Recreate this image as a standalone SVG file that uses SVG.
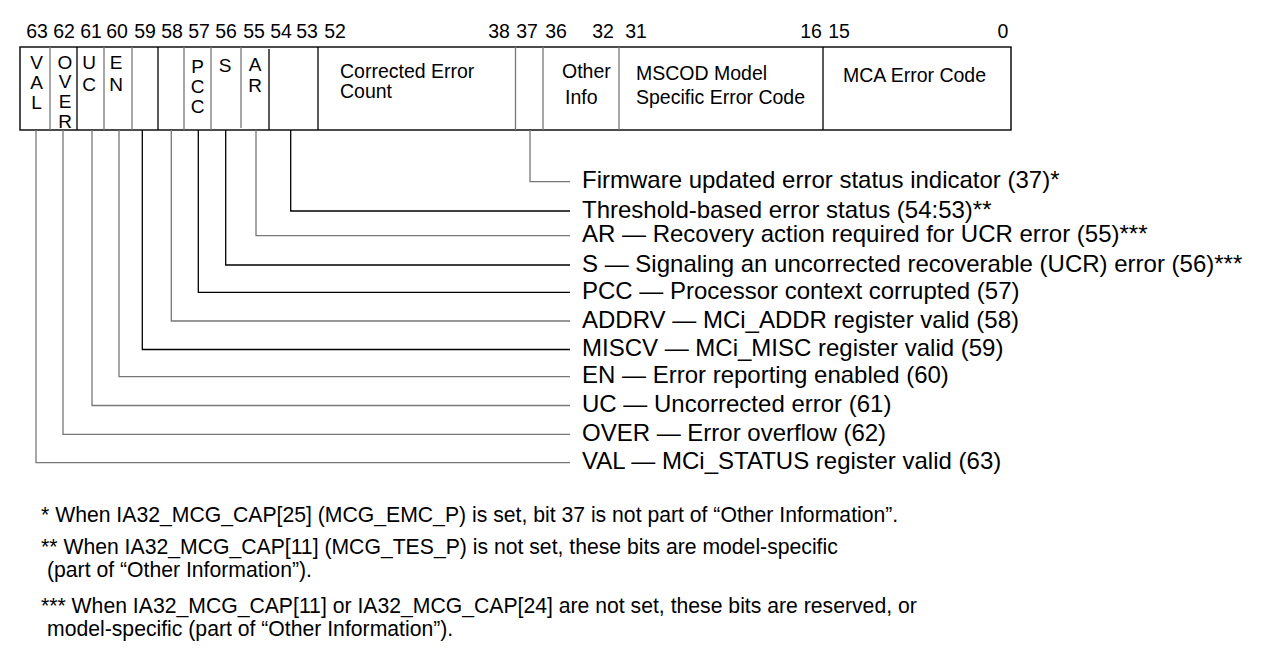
<svg xmlns="http://www.w3.org/2000/svg" width="1270" height="656" viewBox="0 0 1270 656">
<style>
text{font-family:"Liberation Sans",Arial,sans-serif;fill:#000}
.num{font-size:19.5px;text-anchor:middle}
.bx{font-size:19.5px}
.vl{font-size:19px;text-anchor:middle}
.lab{font-size:24px}
.fn{font-size:21.2px}
.frame{fill:none;stroke:#000;stroke-width:1.4}
.dk{stroke:#000;stroke-width:1.3;fill:none}
.gy{stroke:#777;stroke-width:1.3;fill:none}
</style>
<rect width="1270" height="656" fill="#fff"/>
<g id="bit-numbers">
<text class="num" x="37" y="38">63</text>
<text class="num" x="64" y="38">62</text>
<text class="num" x="91" y="38">61</text>
<text class="num" x="117" y="38">60</text>
<text class="num" x="145" y="38">59</text>
<text class="num" x="172" y="38">58</text>
<text class="num" x="199" y="38">57</text>
<text class="num" x="226" y="38">56</text>
<text class="num" x="254" y="38">55</text>
<text class="num" x="281" y="38">54</text>
<text class="num" x="307" y="38">53</text>
<text class="num" x="335" y="38">52</text>
<text class="num" x="499" y="38">38</text>
<text class="num" x="527" y="38">37</text>
<text class="num" x="556" y="38">36</text>
<text class="num" x="603" y="38">32</text>
<text class="num" x="636" y="38">31</text>
<text class="num" x="811" y="38">16</text>
<text class="num" x="839" y="38">15</text>
<text class="num" x="1003" y="38">0</text>
</g>
<g id="register">
<rect class="frame" x="20" y="47" width="991" height="83"/>
<line class="gy" x1="50" y1="47" x2="50" y2="130"/>
<line class="dk" x1="77" y1="47" x2="77" y2="130"/>
<line class="gy" x1="104" y1="47" x2="104" y2="130"/>
<line class="gy" x1="132" y1="47" x2="132" y2="130"/>
<line class="dk" x1="158" y1="47" x2="158" y2="130"/>
<line class="gy" x1="184" y1="47" x2="184" y2="130"/>
<line class="gy" x1="211" y1="47" x2="211" y2="130"/>
<line class="gy" x1="241" y1="47" x2="241" y2="128"/>
<line class="dk" x1="269" y1="49" x2="269" y2="130"/>
<line class="dk" x1="318" y1="47" x2="318" y2="130"/>
<line class="gy" x1="515.5" y1="47" x2="515.5" y2="130"/>
<line class="gy" x1="543" y1="47" x2="543" y2="130"/>
<line class="gy" x1="619" y1="47" x2="619" y2="130"/>
<line class="dk" x1="823" y1="47" x2="823" y2="130"/>
</g>
<g id="field-val"><text class="vl" x="36.5" y="69">V</text><text class="vl" x="36.5" y="89">A</text><text class="vl" x="36.5" y="109">L</text></g>
<g id="field-over"><text class="vl" x="65" y="68.5">O</text><text class="vl" x="65" y="88.3">V</text><text class="vl" x="65" y="108.1">E</text><text class="vl" x="65" y="128">R</text></g>
<g id="field-uc"><text class="vl" x="89" y="69">U</text><text class="vl" x="89" y="91">C</text></g>
<g id="field-en"><text class="vl" x="116" y="69">E</text><text class="vl" x="116" y="91">N</text></g>
<g id="field-pcc"><text class="vl" x="197.5" y="72.5">P</text><text class="vl" x="197.5" y="92.5">C</text><text class="vl" x="197.5" y="112.5">C</text></g>
<g id="field-s"><text class="vl" x="225" y="72">S</text></g>
<g id="field-ar"><text class="vl" x="255" y="71">A</text><text class="vl" x="255" y="92">R</text></g>
<g id="field-cec"><text class="bx" x="340" y="77.5">Corrected Error</text><text class="bx" x="340" y="98">Count</text></g>
<g id="field-other"><text class="bx" x="562" y="78">Other</text><text class="bx" x="565" y="104">Info</text></g>
<g id="field-mscod"><text class="bx" x="636" y="80">MSCOD Model</text><text class="bx" x="636" y="103.5">Specific Error Code</text></g>
<g id="field-mca"><text class="bx" x="843" y="81.5">MCA Error Code</text></g>
<g id="connectors">
<polyline class="gy" points="530,130 530,181.7 570,181.7"/>
<polyline class="dk" points="290.7,130 290.7,211 570,211"/>
<polyline class="gy" points="256,130 256,235.7 570,235.7"/>
<polyline class="dk" points="225.7,130 225.7,265 570,265"/>
<polyline class="dk" points="198.3,130 198.3,292.3 570,292.3"/>
<polyline class="gy" points="171.3,130 171.3,321 570,321"/>
<polyline class="dk" points="142.3,130 142.3,349.5 570,349.5"/>
<polyline class="gy" points="119,130 119,376.7 570,376.7"/>
<polyline class="gy" points="92,130 92,405.5 570,405.5"/>
<polyline class="gy" points="63,130 63,434.3 570,434.3"/>
<polyline class="gy" points="36,130 36,462.7 570,462.7"/>
</g>
<g id="labels">
<text class="lab" x="582" y="188.4">Firmware updated error status indicator (37)*</text>
<text class="lab" x="582" y="217.7">Threshold-based error status (54:53)**</text>
<text class="lab" x="582" y="242.4">AR — Recovery action required for UCR error (55)***</text>
<text class="lab" x="582" y="271.7">S — Signaling an uncorrected recoverable (UCR) error (56)***</text>
<text class="lab" x="582" y="299">PCC — Processor context corrupted (57)</text>
<text class="lab" x="582" y="327.7">ADDRV — MCi_ADDR register valid (58)</text>
<text class="lab" x="582" y="356.2">MISCV — MCi_MISC register valid (59)</text>
<text class="lab" x="582" y="383.4">EN — Error reporting enabled (60)</text>
<text class="lab" x="582" y="412.2">UC — Uncorrected error (61)</text>
<text class="lab" x="582" y="441">OVER — Error overflow (62)</text>
<text class="lab" x="582" y="469.4">VAL — MCi_STATUS register valid (63)</text>
</g>
<g id="footnotes">
<text class="fn" x="41" y="522.3">* When IA32_MCG_CAP[25] (MCG_EMC_P) is set, bit 37 is not part of “Other Information”.</text>
<text class="fn" x="41" y="554">** When IA32_MCG_CAP[11] (MCG_TES_P) is not set, these bits are model-specific</text>
<text class="fn" x="47" y="577">(part of “Other Information”).</text>
<text class="fn" x="41" y="613.3">*** When IA32_MCG_CAP[11] or IA32_MCG_CAP[24] are not set, these bits are reserved, or</text>
<text class="fn" x="47" y="636">model-specific (part of “Other Information”).</text>
</g>
</svg>
